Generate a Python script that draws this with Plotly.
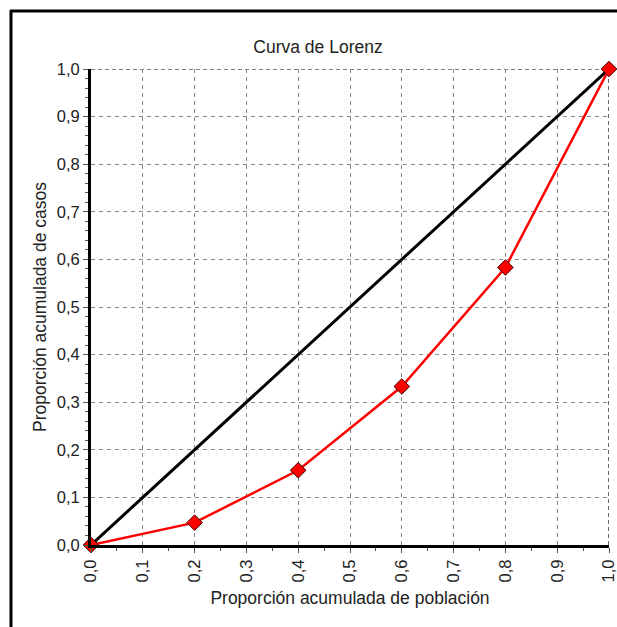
import plotly.graph_objects as go

# Data
pop_prop = [0.0, 0.2, 0.4, 0.6, 0.8, 1.0]
case_prop = [0.0, 0.047, 0.157, 0.333, 0.583, 1.0]
equality_x = [0.0, 1.0]
equality_y = [0.0, 1.0]
tick_vals = [0.0, 0.1, 0.2, 0.3, 0.4, 0.5, 0.6, 0.7, 0.8, 0.9, 1.0]
tick_text = ["0,0", "0,1", "0,2", "0,3", "0,4", "0,5", "0,6", "0,7", "0,8", "0,9", "1,0"]

FONT = "Liberation Sans, Arial, sans-serif"

fig = go.Figure()
fig.add_trace(go.Scatter(x=equality_x, y=equality_y, mode="lines",
                         line=dict(color="black", width=3), cliponaxis=False,
                         showlegend=False, hoverinfo="skip"))
fig.add_trace(go.Scatter(x=pop_prop, y=case_prop, mode="lines+markers",
                         line=dict(color="#ff0000", width=2.5),
                         marker=dict(symbol="diamond", size=12, color="#ff0000",
                                     line=dict(color="#400000", width=1)),
                         cliponaxis=False, showlegend=False))

# plot area in px: x 91..609, y 69..545
L, R, T, B = 91, 609, 69, 545
W, H = R - L, B - T
def px(x):
    return (x - L) / W
def py(y):
    return (B - y) / H

shapes = [
    dict(type="line", xref="x", yref="y", x0=0, x1=1, y0=1, y1=1,
         line=dict(color="black", width=1.2, dash="4px,3px"), layer="below"),
    dict(type="line", xref="x", yref="y", x0=1, x1=1, y0=0, y1=1,
         line=dict(color="black", width=1.2, dash="4px,3px"), layer="below"),
    dict(type="line", xref="paper", yref="paper", x0=px(11), x1=px(11), y0=py(10), y1=py(640),
         line=dict(color="black", width=3)),
    dict(type="line", xref="paper", yref="paper", x0=px(10), x1=px(640), y0=py(11), y1=py(11),
         line=dict(color="black", width=3)),
]

TICKF = dict(family=FONT, size=16.5, color="#222")
TITLEF = dict(family=FONT, size=17.5, color="#222")

axis_common = dict(
    range=[0, 1], tickvals=tick_vals, ticktext=tick_text,
    showgrid=True, gridcolor="#8a8a8a", griddash="4px,4px", gridwidth=1,
    showline=True, linecolor="black", linewidth=3,
    ticks="outside", ticklen=5, tickcolor="#555", tickwidth=1,
    zeroline=False, tickfont=TICKF, ticklabeloverflow="allow",
    automargin=False, fixedrange=True,
)

fig.update_layout(
    width=617, height=627,
    margin=dict(l=L, r=617 - R, t=T, b=627 - B),
    paper_bgcolor="white", plot_bgcolor="white",
    font=dict(family=FONT, size=16, color="#222"),
    title=dict(text="Curva de Lorenz", x=px(318), xanchor="center", xref="paper",
               y=1 - 47 / 627, yanchor="middle", font=TITLEF),
    shapes=shapes,
)
fig.update_xaxes(**axis_common, tickangle=-90,
                 minor=dict(dtick=0.05, ticks="outside", ticklen=3, tickcolor="#555", showgrid=False),
                 title=dict(text="Proporción acumulada de población", standoff=11, font=TITLEF))
fig.update_yaxes(**axis_common,
                 minor=dict(dtick=0.02, ticks="outside", ticklen=3, tickcolor="#555", showgrid=False),
                 title=dict(text="Proporción acumulada de casos", standoff=6, font=TITLEF))

fig.write_html("out.html", post_script="document.body.style.margin='0px';",
               config={"displayModeBar": False})
